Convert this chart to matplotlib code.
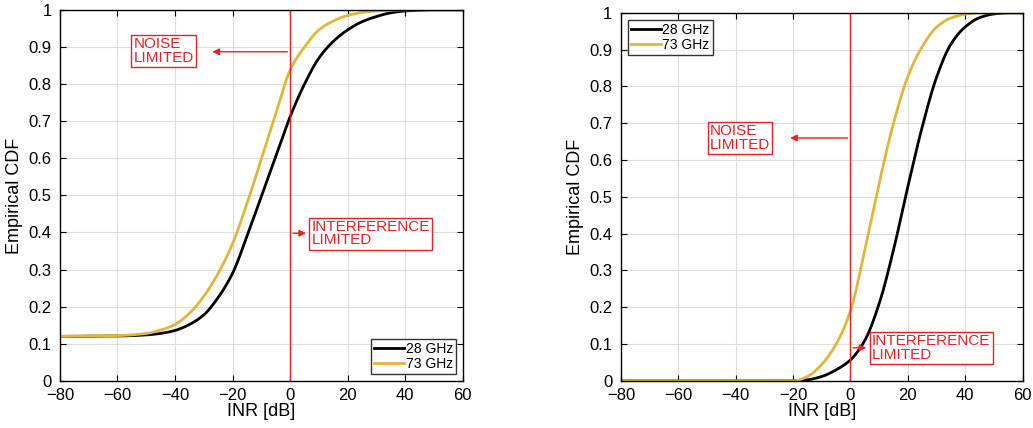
import numpy as np
import matplotlib
matplotlib.use('Agg')
import matplotlib.pyplot as plt

plt.rcParams['font.family'] = ['Liberation Sans', 'DejaVu Sans']

# INR grid [dB] and CDF values
inr = [-80, -60, -50, -45, -40, -35, -30, -25, -20, -15, -10, -5, 0, 5, 10, 15, 20, 25, 30, 35, 40, 45, 50, 55, 60]

# left panel
left_28 = [0.12, 0.121, 0.124, 0.128, 0.136, 0.152, 0.178, 0.225, 0.29, 0.39, 0.497, 0.605, 0.712, 0.80, 0.87,
           0.915, 0.946, 0.968, 0.982, 0.992, 0.997, 0.999, 1.0, 1.0, 1.0]
left_73 = [0.12, 0.122, 0.128, 0.137, 0.152, 0.182, 0.228, 0.29, 0.37, 0.478, 0.598, 0.72, 0.838, 0.90, 0.946,
           0.97, 0.985, 0.993, 0.997, 0.999, 1.0, 1.0, 1.0, 1.0, 1.0]

# right panel
right_28 = [0.0, 0.0, 0.0, 0.0, 0.0, 0.0, 0.0, 0.0, 0.0, 0.003, 0.012, 0.03, 0.057, 0.11, 0.21,
            0.356, 0.528, 0.69, 0.825, 0.915, 0.962, 0.987, 0.997, 1.0, 1.0]
right_73 = [0.0, 0.0, 0.0, 0.0, 0.0, 0.0, 0.0, 0.0, 0.0, 0.012, 0.045, 0.10, 0.19, 0.356, 0.537,
            0.70, 0.827, 0.908, 0.961, 0.986, 0.996, 1.0, 1.0, 1.0, 1.0]

labels = ['28 GHz', '73 GHz']
colors = ['black', '#e3b53a']
red = '#e8202a'

xticks = [-80, -60, -40, -20, 0, 20, 40, 60]
yticks = [0, 0.1, 0.2, 0.3, 0.4, 0.5, 0.6, 0.7, 0.8, 0.9, 1]
ytick_labels = ['0', '0.1', '0.2', '0.3', '0.4', '0.5', '0.6', '0.7', '0.8', '0.9', '1']

# annotation: (text box x, y, arrow y, arrow tip x)
left_notes = {'noise': (-54.5, 0.889, 0.887, -28), 'interf': (7.5, 0.397, 0.398, 6.5)}
right_notes = {'noise': (-49.0, 0.660, 0.660, -22), 'interf': (7.5, 0.090, 0.090, 6.5)}


def smooth(x, y):
    # monotone cubic (PCHIP-like) without scipy
    x = np.asarray(x, float)
    y = np.asarray(y, float)
    xs = np.linspace(x[0], x[-1], 800)
    h = np.diff(x)
    d = np.diff(y) / h
    m = np.zeros_like(y)
    for k in range(1, len(y) - 1):
        if d[k - 1] * d[k] > 0:
            w1 = 2 * h[k] + h[k - 1]
            w2 = h[k] + 2 * h[k - 1]
            m[k] = (w1 + w2) / (w1 / d[k - 1] + w2 / d[k])
    m[0] = d[0]
    m[-1] = d[-1]
    idx = np.clip(np.searchsorted(x, xs) - 1, 0, len(x) - 2)
    t = (xs - x[idx]) / h[idx]
    h00 = 2 * t**3 - 3 * t**2 + 1
    h10 = t**3 - 2 * t**2 + t
    h01 = -2 * t**3 + 3 * t**2
    h11 = t**3 - t**2
    ys = h00 * y[idx] + h10 * h[idx] * m[idx] + h01 * y[idx + 1] + h11 * h[idx] * m[idx + 1]
    return xs, ys


def draw(ax, y28, y73, notes, legend_loc):
    for y, lab, c in zip([y28, y73], labels, colors):
        xs, ys = smooth(inr, y)
        ax.plot(xs, ys, color=c, lw=2, label=lab)
    ax.axvline(0, color=red, lw=1)
    ax.set_xlim(-80, 60)
    ax.set_ylim(0, 1)
    ax.set_xticks(xticks)
    ax.set_yticks(yticks)
    ax.set_yticklabels(ytick_labels)
    ax.grid(True, color='#dddddd', lw=0.8)
    ax.tick_params(direction='in', top=True, right=True, labelsize=12, length=4)
    ax.tick_params(axis='y', pad=6)
    ax.tick_params(axis='x', pad=5)
    ax.set_xlabel('INR [dB]', fontsize=13, labelpad=0)
    ax.set_ylabel('Empirical CDF', fontsize=13, labelpad=4)
    for s in ax.spines.values():
        s.set_linewidth(1)

    bx, by, ay, tip = notes['noise']
    ax.text(bx, by, 'NOISE\nLIMITED', color=red, fontsize=11, va='center', ha='left',
            linespacing=0.95, bbox=dict(boxstyle='square,pad=0.15', fc='white', ec=red, lw=1))
    ax.annotate('', xy=(tip, ay), xytext=(0, ay),
                arrowprops=dict(arrowstyle='-|>', color=red, lw=1, mutation_scale=10))
    bx, by, ay, tip = notes['interf']
    ax.text(bx, by, 'INTERFERENCE\nLIMITED', color=red, fontsize=11, va='center', ha='left',
            linespacing=0.95, bbox=dict(boxstyle='square,pad=0.15', fc='white', ec=red, lw=1))
    ax.annotate('', xy=(tip, ay), xytext=(0, ay),
                arrowprops=dict(arrowstyle='-|>', color=red, lw=1, mutation_scale=10))

    leg = ax.legend(loc=legend_loc, fontsize=10, frameon=True, fancybox=False,
                    edgecolor='black', handlelength=2.2, handletextpad=0.1,
                    borderpad=0.2, labelspacing=0.1, borderaxespad=0.5)
    leg.get_frame().set_linewidth(1)


fig = plt.figure(figsize=(10.33, 4.28), dpi=100)
ax1 = fig.add_axes([0.058, 0.110, 0.390, 0.867])
ax2 = fig.add_axes([0.601, 0.110, 0.389, 0.860])

draw(ax1, left_28, left_73, left_notes, 'lower right')
draw(ax2, right_28, right_73, right_notes, 'upper left')

fig.savefig('out.png', dpi=100)
